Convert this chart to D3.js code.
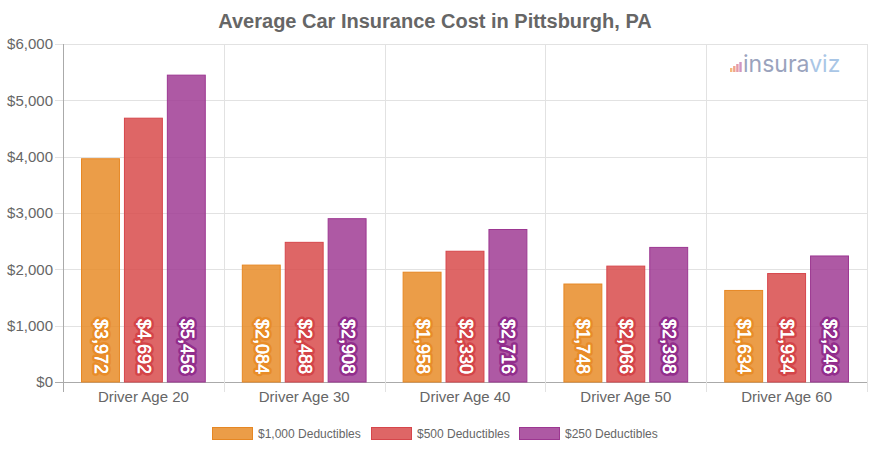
<!DOCTYPE html>
<html lang="en">
<head>
<meta charset="utf-8">
<title>Average Car Insurance Cost in Pittsburgh, PA</title>
<script src="https://cdn.jsdelivr.net/npm/d3@7"></script>
<style>
    html, body { margin: 0; padding: 0; background: #fff; }
    svg { display: block; font-family: "Liberation Sans", Arial, sans-serif; }
</style>
</head>
<body>
<script>
var w = 870, h = 450;
var margin = {top: 44, right: 3, bottom: 68, left: 63};

var ages = ["Driver Age 20", "Driver Age 30", "Driver Age 40", "Driver Age 50", "Driver Age 60"];
var series = [
    {name: "$1,000 Deductibles", fill: "rgb(232,140,40)", stroke: "rgb(230,135,35)", halo: "rgb(232,140,40)", values: [3972, 2084, 1958, 1748, 1634]},
    {name: "$500 Deductibles", fill: "rgb(216,75,75)", stroke: "rgb(214,70,75)", halo: "rgb(212,68,72)", values: [4692, 2488, 2330, 2066, 1934]},
    {name: "$250 Deductibles", fill: "rgb(160,60,148)", stroke: "rgb(156,55,145)", halo: "rgb(146,45,140)", values: [5456, 2908, 2716, 2398, 2246]}
];

var svg = d3.select("body").append("svg").attr("width", w).attr("height", h);

var x = d3.scaleBand().domain(ages).range([margin.left, w - margin.right]);
var xInner = d3.scaleBand().domain(d3.range(3)).range([0, x.bandwidth()]).paddingInner(0.093).paddingOuter(0.42);
var y = d3.scaleLinear().domain([0, 6000]).range([h - margin.bottom, margin.top]);
var money = d3.format("$,");

// gridlines
svg.append("g").selectAll("line").data(y.ticks(6)).enter().append("line")
    .attr("x1", margin.left - 8).attr("x2", w - margin.right)
    .attr("y1", function(d) { return Math.round(y(d)) + 0.5; })
    .attr("y2", function(d) { return Math.round(y(d)) + 0.5; })
    .attr("stroke", function(d) { return d === 0 ? "#aaa" : "#e2e2e2"; });

var xEdges = ages.map(function(a) { return x(a); }).concat([w - margin.right]);
svg.append("g").selectAll("line").data(xEdges).enter().append("line")
    .attr("x1", function(d) { return Math.round(d) + 0.5; })
    .attr("x2", function(d) { return Math.round(d) + 0.5; })
    .attr("y1", margin.top)
    .attr("y2", h - margin.bottom + 10)
    .attr("stroke", function(d, i) { return i === 0 ? "#aaa" : "#e2e2e2"; });

// axes
var yAxis = d3.axisLeft(y).ticks(6).tickFormat(money).tickSize(0).tickPadding(10);
var gy = svg.append("g").attr("transform", "translate(" + margin.left + ",0)").call(yAxis);
gy.select(".domain").remove();
gy.selectAll("text").attr("font-size", 15).attr("fill", "#666").attr("font-family", "Liberation Sans");

var xAxis = d3.axisBottom(x).tickSize(0).tickPadding(9);
var gx = svg.append("g").attr("transform", "translate(0," + (h - margin.bottom) + ")").call(xAxis);
gx.select(".domain").remove();
gx.selectAll("text").attr("font-size", 15).attr("fill", "#666").attr("font-family", "Liberation Sans");

// bars and their labels
series.forEach(function(s, si) {
    var data = s.values.map(function(v, i) { return {age: ages[i], value: v}; });
    var g = svg.append("g");
    g.selectAll("rect").data(data).enter().append("rect")
        .attr("x", function(d) { return x(d.age) + xInner(si) + 0.5; })
        .attr("y", function(d) { return y(d.value) + 0.5; })
        .attr("width", xInner.bandwidth() - 1)
        .attr("height", function(d) { return y(0) - y(d.value) - 0.5; })
        .attr("fill", s.fill)
        .attr("fill-opacity", 0.85)
        .attr("stroke", s.stroke);

    // labels read top to bottom, so rotate clockwise
    g.selectAll("text").data(data).enter().append("text")
        .text(function(d) { return money(d.value); })
        .attr("transform", function(d) {
            return "translate(" + (x(d.age) + xInner(si) + xInner.bandwidth() / 2 - 5.5) + "," + (y(0) - 8) + ") rotate(90)";
        })
        .attr("text-anchor", "end")
        .attr("font-size", 18)
        .attr("fill", "#fff")
        .attr("stroke", s.halo)
        .attr("stroke-width", 5.5)
        .attr("stroke-linejoin", "round")
        .attr("paint-order", "stroke");

    // white pass on top thickens the digits a little
    g.selectAll("text.top").data(data).enter().append("text")
        .attr("class", "top")
        .text(function(d) { return money(d.value); })
        .attr("transform", function(d) {
            return "translate(" + (x(d.age) + xInner(si) + xInner.bandwidth() / 2 - 5.5) + "," + (y(0) - 8) + ") rotate(90)";
        })
        .attr("text-anchor", "end")
        .attr("font-size", 18)
        .attr("fill", "#fff")
        .attr("stroke", "#fff")
        .attr("stroke-width", 0.4);
});

// title
svg.append("text").text("Average Car Insurance Cost in Pittsburgh, PA")
    .attr("x", 435).attr("y", 28).attr("text-anchor", "middle")
    .attr("font-size", 20).attr("font-weight", "bold").attr("fill", "#666");

// legend
var legendX = [212, 371, 519];
var legend = svg.append("g").selectAll("g").data(series).enter().append("g")
    .attr("transform", function(d, i) { return "translate(" + legendX[i] + ",427)"; });
legend.append("rect")
    .attr("x", 0.5).attr("y", 0.5).attr("width", 40).attr("height", 12)
    .attr("fill", function(d) { return d.fill; })
    .attr("fill-opacity", 0.85)
    .attr("stroke", function(d) { return d.stroke; });
legend.append("text").text(function(d) { return d.name; })
    .attr("x", 46).attr("y", 10.5)
    .attr("font-size", 12).attr("fill", "#666");

// logo
var logoBars = [
    {h: 4, c: "#f5bb7c"}, {h: 6, c: "#f0a58c"}, {h: 8, c: "#e59aa8"}, {h: 10, c: "#cf96c4"}
];
var logo = svg.append("g").attr("transform", "translate(730,72)");
logo.selectAll("rect").data(logoBars).enter().append("rect")
    .attr("x", function(d, i) { return i * 3.1; })
    .attr("y", function(d) { return -d.h; })
    .attr("width", 2.4)
    .attr("height", function(d) { return d.h; })
    .attr("fill", function(d) { return d.c; });
var logoText = logo.append("text").attr("x", 13).attr("y", 0)
    .attr("font-family", "Inter").attr("font-size", 23).attr("font-weight", 400);
logoText.append("tspan").text("insura").attr("fill", "#9aa3bd");
logoText.append("tspan").text("viz").attr("fill", "#a9c6e6");
</script>
</body>
</html>
